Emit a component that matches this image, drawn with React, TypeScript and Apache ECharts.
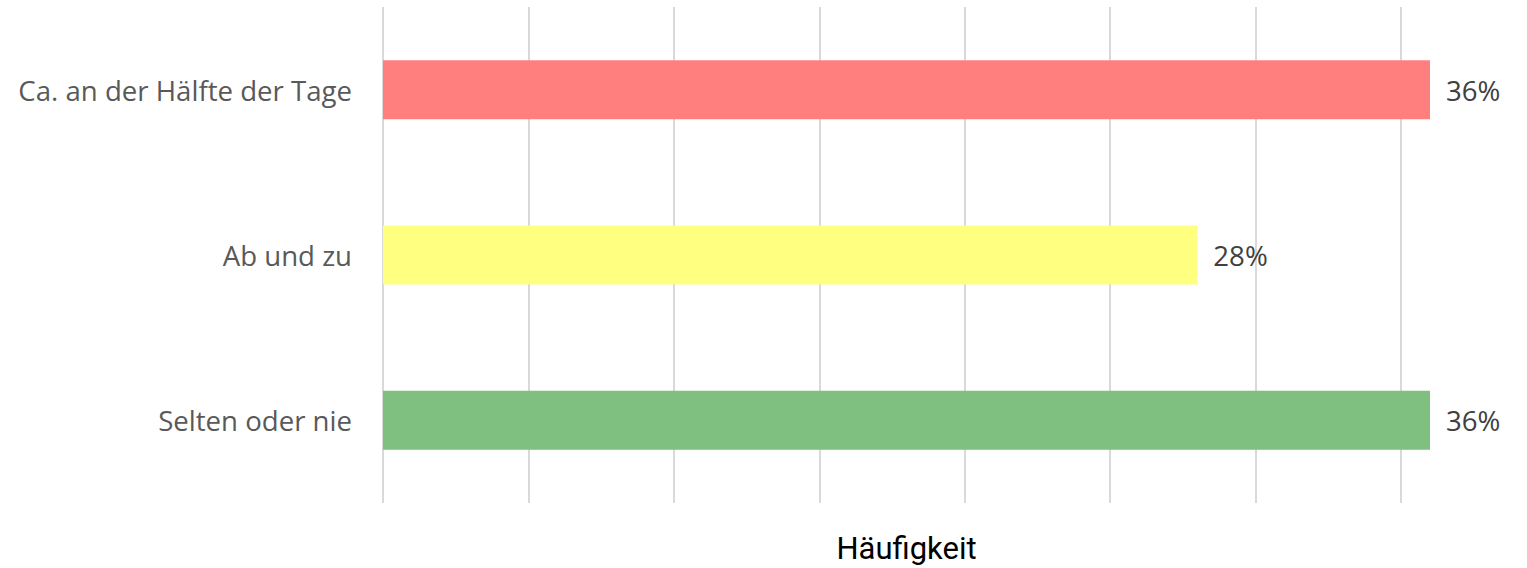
import React, { useEffect, useRef } from "react";
import * as echarts from "echarts";

const categories = ["Selten oder nie", "Ab und zu", "Ca. an der Hälfte der Tage"];
const values = [36, 28, 36];
const barColors = ["#7FBF7F", "#FFFF80", "#FF7F7F"];
const axisTitle = "Häufigkeit";

export default function App() {
  const ref = useRef<HTMLDivElement>(null);
  useEffect(() => {
    if (!ref.current) return;
    const chart = echarts.init(ref.current, null, { renderer: "svg" });
    chart.setOption({
      animation: false,
      grid: { left: 383, right: 97, top: 7, bottom: 65, containLabel: false, outerBoundsMode: "none" },
      xAxis: {
        type: "value",
        min: 0,
        max: 36,
        interval: 5,
        axisLabel: { show: false },
        axisLine: { show: false },
        axisTick: { show: false },
        splitLine: { show: true, showMaxLine: false, lineStyle: { color: "#D9D9D9", width: 2 } },
        name: axisTitle,
        nameLocation: "middle",
        nameGap: 30,
        nameTextStyle: { fontFamily: "Roboto", fontSize: 31, color: "#000000" },
      },
      yAxis: {
        type: "category",
        data: categories,
        axisLine: { show: false },
        axisTick: { show: false },
        axisLabel: { fontFamily: "Open Sans", fontSize: 27.6, color: "#595959", margin: 31 },
      },
      series: [
        {
          type: "bar",
          barWidth: 59,
          data: values.map((v, i) => ({ value: v, itemStyle: { color: barColors[i] } })),
          label: {
            show: true,
            position: "right",
            distance: 16,
            formatter: (p: any) => p.value + "%",
            fontFamily: "Open Sans",
            fontSize: 27.6,
            color: "#404040",
          },
        },
      ],
    });
    return () => chart.dispose();
  }, []);
  return (
    <div
      ref={ref}
      style={{ position: "absolute", left: 0, top: 0, width: 1527, height: 568 }}
    />
  );
}
